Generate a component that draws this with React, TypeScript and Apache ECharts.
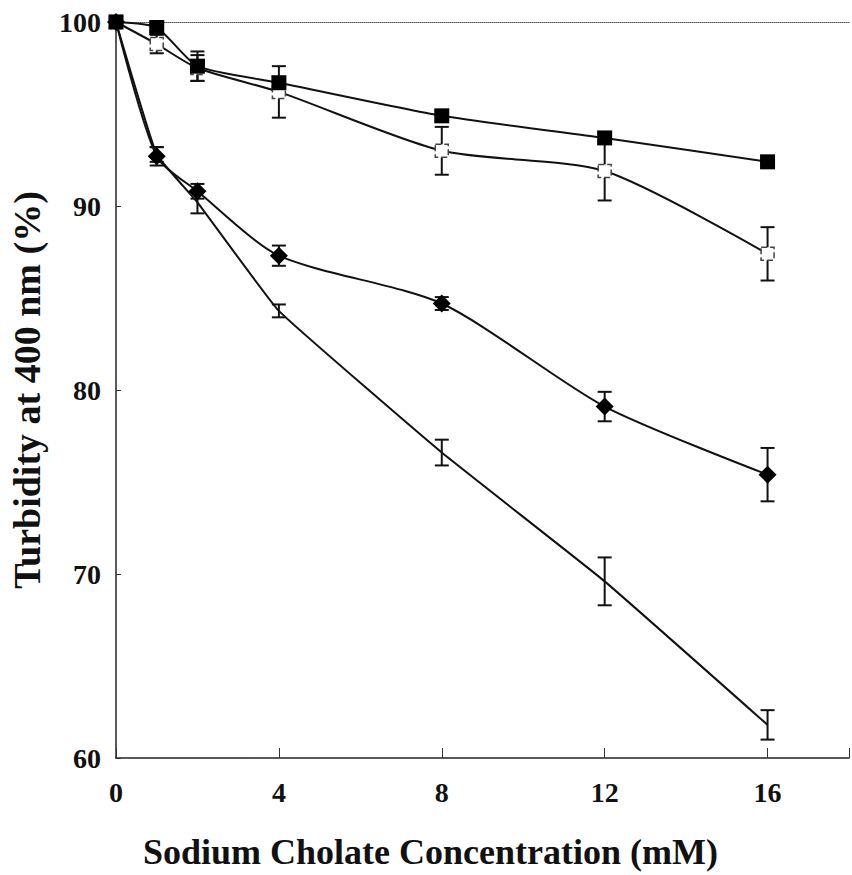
import React, { useEffect, useRef } from "react";
import * as echarts from "echarts";

const concentrations = [0, 1, 2, 4, 8, 12, 16];
const filledSquare = [100, 99.7, 97.6, 96.7, 94.9, 93.7, 92.4];
const filledSquareErr = [0, 0.2, 0.8, 0.3, 0.3, 0.3, 0.2];
const openSquare = [100, 98.8, 97.5, 96.2, 93.0, 91.9, 87.4];
const openSquareErr = [0, 0.5, 0.7, 1.4, 1.3, 1.6, 1.45];
const diamond = [100, 92.7, 90.8, 87.3, 84.7, 79.1, 75.4];
const diamondErr = [0, 0.5, 0.4, 0.55, 0.35, 0.8, 1.45];
const plain = [100, 92.8, 90.2, 84.3, 76.6, 69.6, 61.8];
const plainErr = [0, 0.4, 0.6, 0.35, 0.7, 1.3, 0.8];

const xTicks = [0, 4, 8, 12, 16];
const yTicks = [60, 70, 80, 90, 100];

const FONT = "'Liberation Serif', 'Times New Roman', serif";

function pairs(vals: number[]) {
  return concentrations.map((x, i) => [x, vals[i]]);
}
function errData(vals: number[], errs: number[]) {
  return concentrations
    .map((x, i) => [x, vals[i] - errs[i], vals[i] + errs[i]])
    .filter((d, i) => errs[i] > 0);
}

function errorSeries(vals: number[], errs: number[]) {
  return {
    type: "custom",
    data: errData(vals, errs),
    z: 1,
    renderItem: (params: any, api: any) => {
      const x = api.value(0);
      const lo = api.coord([x, api.value(1)]);
      const hi = api.coord([x, api.value(2)]);
      const w = 7;
      const style = { stroke: "#111", lineWidth: 2 };
      return {
        type: "group",
        children: [
          { type: "line", shape: { x1: lo[0], y1: lo[1], x2: hi[0], y2: hi[1] }, style },
          { type: "line", shape: { x1: lo[0] - w, y1: lo[1], x2: lo[0] + w, y2: lo[1] }, style },
          { type: "line", shape: { x1: hi[0] - w, y1: hi[1], x2: hi[0] + w, y2: hi[1] }, style },
        ],
      };
    },
  };
}

export default function App() {
  const ref = useRef<HTMLDivElement>(null);
  useEffect(() => {
    if (!ref.current) return;
    const chart = echarts.init(ref.current, undefined, { renderer: "svg" });
    const lineBase = {
      type: "line",
      lineStyle: { color: "#111", width: 2 },
      z: 3,
    };
    chart.setOption({
      animation: false,
      backgroundColor: "#ffffff",
      grid: { left: 113, right: -8, top: 22, bottom: 112 },
      xAxis: [
        {
          type: "value",
          min: 0,
          max: 18,
          interval: 4,
          name: "Sodium Cholate Concentration (mM)",
          nameLocation: "middle",
          nameGap: 76,
          nameTextStyle: {
            fontFamily: FONT,
            fontWeight: "bold",
            fontSize: 36,
            color: "#111",
            padding: [0, 104, 0, 0],
          },
          axisLine: { lineStyle: { color: "#222", width: 1.5 } },
          axisTick: { show: true, inside: true, length: 10, lineStyle: { color: "#333", width: 1 } },
          axisLabel: {
            margin: 20,
            fontFamily: FONT,
            fontWeight: "bold",
            fontSize: 28,
            color: "#111",
            formatter: (v: number) => (xTicks.includes(v) ? String(v) : ""),
          },
          splitLine: { show: false },
        },
        {
          type: "value",
          position: "top",
          min: 0,
          max: 18,
          interval: 4,
          axisLine: { show: true, lineStyle: { color: "#555", width: 1, type: "dotted" } },
          axisTick: { show: false },
          axisLabel: { show: false },
          splitLine: { show: false },
        },
      ],
      yAxis: {
        type: "value",
        min: 60,
        max: 100,
        interval: 10,
        name: "Turbidity at 400 nm (%)",
        nameLocation: "middle",
        nameGap: 70,
        nameTextStyle: {
          fontFamily: FONT,
          fontWeight: "bold",
          fontSize: 38,
          color: "#111",
        },
        axisLine: { show: true, lineStyle: { color: "#222", width: 1.5 } },
        axisTick: { show: true, inside: true, length: 5, lineStyle: { color: "#333", width: 1 } },
        axisLabel: {
          margin: 15,
          fontFamily: FONT,
          fontWeight: "bold",
          fontSize: 28,
          color: "#111",
          formatter: (v: number) => (yTicks.includes(v) ? String(v) : ""),
        },
        splitLine: { show: false },
      },
      series: [
        errorSeries(plain, plainErr),
        errorSeries(diamond, diamondErr),
        errorSeries(openSquare, openSquareErr),
        errorSeries(filledSquare, filledSquareErr),
        {
          ...lineBase,
          name: "plain",
          data: pairs(plain),
          smooth: 0.1,
          symbol: "none",
        },
        {
          ...lineBase,
          name: "diamond",
          data: pairs(diamond),
          smooth: 0.25,
          symbol: "diamond",
          symbolSize: 18,
          itemStyle: { color: "#000" },
          z: 4,
        },
        {
          ...lineBase,
          name: "open square",
          data: pairs(openSquare),
          smooth: 0.25,
          symbol: "rect",
          symbolSize: 13,
          itemStyle: { color: "#fff", borderColor: "#444", borderWidth: 1.5, borderType: "dashed" },
          z: 4,
        },
        {
          ...lineBase,
          name: "filled square",
          data: pairs(filledSquare),
          smooth: 0.2,
          symbol: "rect",
          symbolSize: 15,
          itemStyle: { color: "#000" },
          z: 5,
        },
      ],
    });
    return () => chart.dispose();
  }, []);
  return (
    <div
      ref={ref}
      style={{ position: "absolute", left: 0, top: 0, width: 852, height: 875 }}
    />
  );
}
